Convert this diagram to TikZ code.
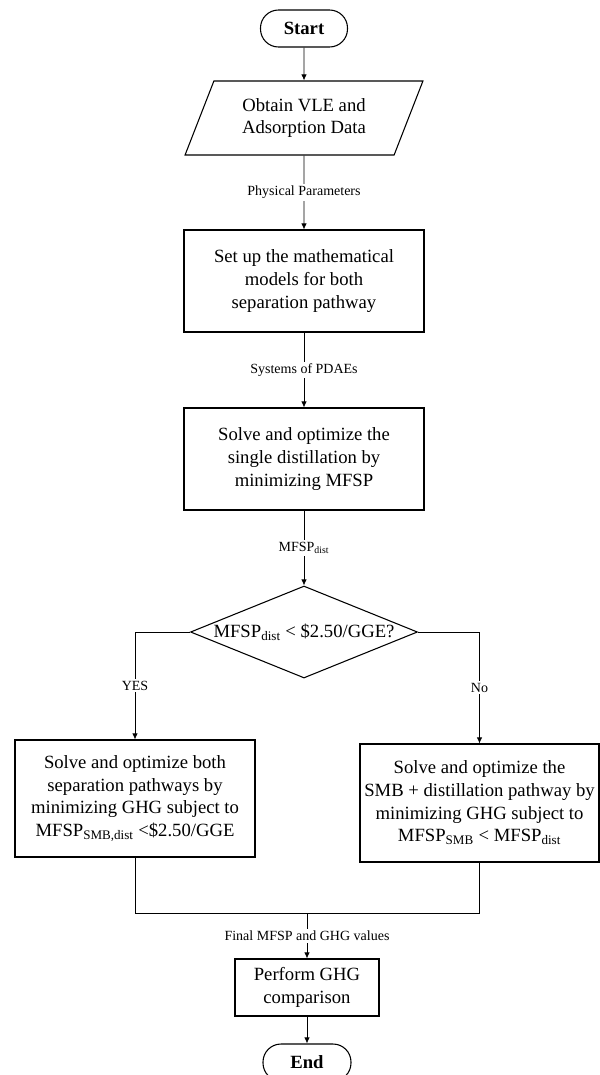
\documentclass[tikz,border=0pt]{standalone}
\usepackage{fontspec}
\setmainfont{Liberation Serif}
\usetikzlibrary{shapes.geometric,arrows.meta}
\tikzset{%
  process/.style  = {shape=rectangle, draw, align=center, inner sep=0pt,%
                     line width=0.8pt, font=\fontsize{14}{17}\selectfont},%
  terminal/.style = {process, rounded corners=13.5pt,%
                     font=\fontsize{14}{17}\selectfont\bfseries},%
  io/.style       = {process, shape=trapezium, trapezium stretches=true,%
                     trapezium left angle=63.4, trapezium right angle=116.6},%
  decision/.style = {process, shape=diamond, aspect=2.47},%
  flowlabel/.style= {fill=white, inner sep=1.5pt, font=\fontsize{10.5}{12}\selectfont},%
  link/.style     = {line width=0.6pt},%
  flow/.style     = {link, -{Latex[length=4.5pt,width=4pt]}}%
}

\begin{document}
\begin{tikzpicture}[x=0.75pt, y=-0.75pt]%
	\useasboundingbox (0,0) rectangle (600,1075);
	% main column
	\node (start) at (304,28.5) [terminal, minimum width=65.25pt, minimum height=27.75pt] {Start};%
	\node (data) at (304,118) [io, minimum width=178.5pt, minimum height=55.5pt]%
		{Obtain VLE and\\Adsorption Data};%
	\node (model) at (304,281) [process, minimum width=180pt, minimum height=76.5pt]%
		{Set up the mathematical\\models for both\\separation pathway};%
	\node (single) at (304,459) [process, minimum width=180pt, minimum height=76.5pt]%
		{Solve and optimize the\\single distillation by\\minimizing MFSP};%
	\node (check) at (304,632) [decision, minimum width=170.25pt, minimum height=69pt]%
		{MFSP\textsubscript{dist} < \$2.50/GGE?};%
	% the two branches
	\node (both) at (135,798.5) [process, minimum width=180pt, minimum height=87.75pt]%
		{Solve and optimize both\\separation pathways by\\minimizing GHG subject to\\MFSP\textsubscript{SMB,dist} <\$2.50/GGE};%
	\node (smb) at (479.5,803) [process, minimum width=179.25pt, minimum height=88.5pt]%
		{Solve and optimize the\\SMB + distillation pathway by\\minimizing GHG subject to\\MFSP\textsubscript{SMB} < MFSP\textsubscript{dist}};%
	\node (compare) at (307,987.5) [process, minimum width=108pt, minimum height=42.75pt]%
		{Perform GHG\\comparison};%
	\node (stop) at (307,1062.5) [terminal, minimum width=66pt, minimum height=27.75pt] {End};%
	\coordinate (merge) at (307,913);
	% connectors
	\draw [flow] (start) -- (data);%
	\draw [flow] (data) -- node [flowlabel] {Physical Parameters} (model);%
	\draw [flow] (model) -- node [flowlabel] {Systems of PDAEs} (single);%
	\draw [flow] (single) -- node [flowlabel] {MFSP\textsubscript{dist}} (check);%
	\draw [flow] (check.west) -| node [flowlabel, pos=0.75] {YES} (both.north);%
	\draw [flow] (check.east) -| node [flowlabel, pos=0.75] {No} (smb.north);%
	\draw [link] (both.south) |- (merge);%
	\draw [link] (smb.south) |- (merge);%
	\draw [flow] (merge) -- node [flowlabel] {Final MFSP and GHG values} (compare);%
	\draw [flow] (compare) -- (stop);%
\end{tikzpicture}
\end{document}
